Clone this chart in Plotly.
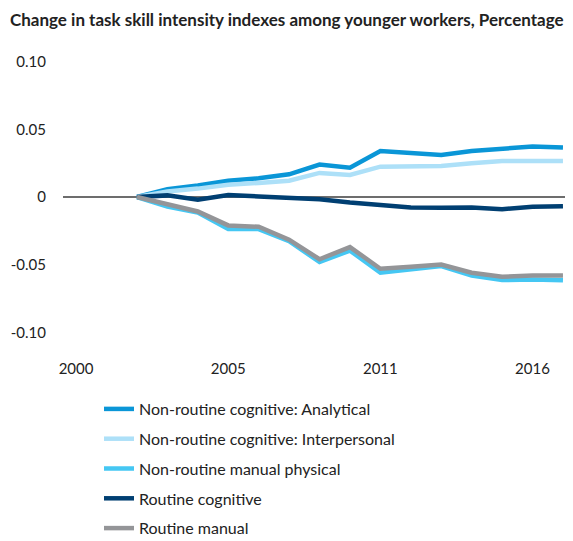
import plotly.graph_objects as go

categories = ["2000", "2001", "2002", "2003", "2004", "2005", "2006", "2007", "2008",
              "2009", "2011", "2012", "2013", "2014", "2015", "2016", "2017"]
data_years = categories[2:]
tick_labels = ["2000", "2005", "2011", "2016"]

analytical = [0, 0.0057, 0.0085, 0.012, 0.0138, 0.0168, 0.024, 0.0217,
              0.034, 0.0327, 0.031, 0.034, 0.036, 0.0373, 0.0366]
interpersonal = [0, 0.004, 0.0062, 0.009, 0.0104, 0.012, 0.0178, 0.0163,
                 0.0224, 0.0226, 0.023, 0.0249, 0.0266, 0.0266, 0.0266]
manual_physical = [0, -0.007, -0.0115, -0.0237, -0.0237, -0.0327, -0.048, -0.0396,
                   -0.056, -0.0535, -0.051, -0.058, -0.0614, -0.061, -0.0616]
routine_cognitive = [0, 0.0012, -0.002, 0.0015, 0.0004, -0.001, -0.0016, -0.004,
                     -0.0057, -0.0077, -0.008, -0.0077, -0.009, -0.0072, -0.0068]
routine_manual = [0, -0.0057, -0.0107, -0.021, -0.022, -0.0315, -0.046, -0.037,
                  -0.053, -0.0516, -0.0499, -0.056, -0.059, -0.058, -0.058]

series = [
    ("Non-routine cognitive: Analytical", analytical, "#0a96d7"),
    ("Non-routine cognitive: Interpersonal", interpersonal, "#ade0f8"),
    ("Non-routine manual physical", manual_physical, "#45c7f3"),
    ("Routine cognitive", routine_cognitive, "#003f72"),
    ("Routine manual", routine_manual, "#949598"),
]

FONT = "Lato, 'Noto Sans', sans-serif"
W, H = 565, 533  # page body adds an 8px margin

fig = go.Figure()
for i, (name, vals, color) in enumerate(series):
    fig.add_trace(go.Scatter(
        x=data_years, y=vals, name=name, mode="lines",
        line=dict(color=color, width=4.5),
        legendgroup=str(i),
    ))

fig.update_layout(
    width=W, height=H,
    margin=dict(l=55, r=0, t=53, b=208, autoexpand=False),
    paper_bgcolor="white", plot_bgcolor="white",
    font=dict(family=FONT, size=15, color="#222222"),
    title=dict(text="<b>Change in task skill intensity indexes among younger workers, Percentage</b>",
               x=2 / W, xref="container", xanchor="left", y=1, yref="container", yanchor="top",
               pad=dict(l=0, t=6),
               font=dict(family=FONT, size=17, color="#222222")),
    showlegend=True,
    legend=dict(orientation="v", x=91 / W, xref="container", xanchor="left",
                y=1 - 384 / H, yref="container", yanchor="top",
                tracegroupgap=6, font=dict(size=16, color="#222222"),
                bgcolor="rgba(0,0,0,0)"),
    xaxis=dict(type="category", categoryorder="array", categoryarray=categories,
               range=[-0.43, 16.33], tickmode="array", tickvals=tick_labels,
               ticktext=tick_labels, showgrid=False, showline=False, zeroline=False,
               ticks="", ticklabelstandoff=25, automargin=False,
               tickfont=dict(size=15)),
    yaxis=dict(range=[-0.1005, 0.1005], tickmode="array",
               tickvals=[-0.1, -0.05, 0, 0.05, 0.1],
               ticktext=["-0.10", "-0.05", "0", "0.05", "0.10"],
               showgrid=False, showline=False, zeroline=True,
               zerolinecolor="#6d6d6d", zerolinewidth=1.5, ticks="",
               ticklabelstandoff=16, automargin=False,
               tickfont=dict(size=15)),
)
fig.write_html("out.html")
